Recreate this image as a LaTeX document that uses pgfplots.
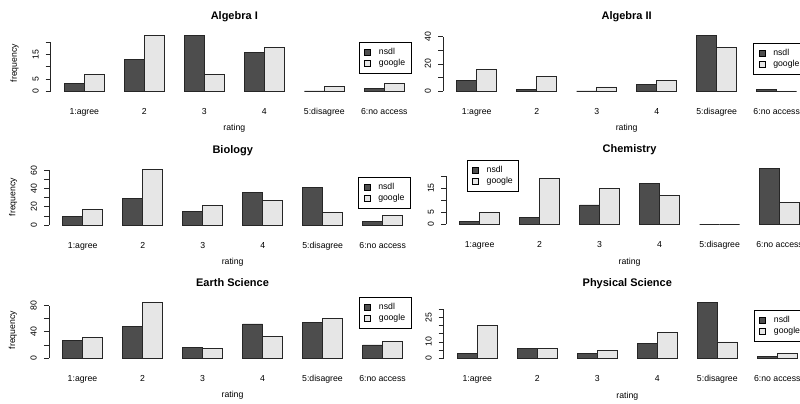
\documentclass[border=0pt]{standalone}
\usepackage{fontspec}
\setmainfont{Liberation Sans}
\usepackage{pgfplots}
\pgfplotsset{compat=1.18}
\definecolor{nsdlc}{HTML}{4D4D4D}
\definecolor{googc}{HTML}{E6E6E6}
\newcommand\lab{\fontsize{8.7}{10}\selectfont}
\newcommand\ttl{\fontsize{11}{13}\selectfont\bfseries}
\pgfplotsset{
  rpanel/.style={
    scale only axis, width=367.2pt, height=60pt, anchor=south west,
    xmin=0.32, xmax=18.68, clip=false,
    axis lines*=left, axis line style={draw=none},
    xtick={2,5,8,11,14,17},
    xticklabels={1:agree,2,3,4,5:disagree,6:no access},
    xtick style={draw=none},
    ytick style={draw=black!85, line width=0.7pt},
    tick align=outside, major tick length=5pt,
    ticklabel style={font=\lab},
    yticklabel style={rotate=90, anchor=south, inner sep=0pt},
    yticklabel shift=6.9pt,
    xticklabel style={anchor=base, inner sep=0pt},
    xticklabel shift=16pt,
    /pgf/number format/assume math mode=true,
    title style={at={(axis description cs:0.5,1.125)}, anchor=base, font=\ttl},
    xlabel=rating,
    xlabel style={at={(axis description cs:0.5,-0.628)}, anchor=base, font=\lab},
    ylabel style={at={(axis description cs:-0.098,0.5)}, anchor=center, font=\lab},
    legend style={draw=black, line width=0.75pt, fill=white, anchor=north west,
      inner xsep=5pt, inner ysep=5pt, row sep=1pt, font=\lab,
      nodes={inner sep=1pt, text height=6.2pt, text depth=1.8pt},
      /tikz/every odd column/.append style={column sep=7pt}},
    legend cell align=left,
  },
  nsdlbar/.style={ybar, bar width=1, bar shift=0pt, fill=nsdlc, draw=black!85, line width=0.8pt,
    legend image code/.code={\draw[fill=nsdlc,draw=black,line width=0.6pt] (0pt,-3pt) rectangle (6pt,3pt);}},
  googbar/.style={ybar, bar width=1, bar shift=0pt, fill=googc, draw=black!85, line width=0.8pt,
    legend image code/.code={\draw[fill=googc,draw=black,line width=0.6pt] (0pt,-3pt) rectangle (6pt,3pt);}},
  yline/.style={black!85, line width=0.75pt, forget plot},
}
\begin{document}
\begin{tikzpicture}
\useasboundingbox (0,0) rectangle (800pt,404pt);
\fill[white] (0,0) rectangle (800pt,404pt);
\begin{scope}
\clip (0,0) rectangle (413pt,404pt);
% Algebra I
\begin{axis}[rpanel, at={(50.7pt,310.8pt)}, title={Algebra I}, ylabel={frequency},
  ymin=-0.92, ymax=23.92, ytick={0,5,10,15,20}, yticklabels={0,5,,15,},
  legend style={at={(axis description cs:0.8396,0.848)}}]
\addplot[nsdlbar] coordinates {(1.5,3) (4.5,13) (7.5,23) (10.5,16) (13.5,0) (16.5,1)};
\addlegendentry{nsdl}
\addplot[googbar] coordinates {(2.5,7) (5.5,23) (8.5,7) (11.5,18) (14.5,2) (17.5,3)};
\addlegendentry{google}
\addplot[yline] coordinates {(0.32,0) (0.32,20)};
\end{axis}
% Biology
\begin{axis}[rpanel, at={(49.1pt,176.8pt)}, title={Biology}, ylabel={frequency},
  ymin=-2.44, ymax=63.44, ytick={0,10,20,30,40,50,60}, yticklabels={0,,20,,40,,60},
  legend style={at={(axis description cs:0.842,0.832)}}]
\addplot[nsdlbar] coordinates {(1.5,9) (4.5,29) (7.5,15) (10.5,36) (13.5,41) (16.5,4)};
\addlegendentry{nsdl}
\addplot[googbar] coordinates {(2.5,17) (5.5,61) (8.5,21) (11.5,27) (14.5,14) (17.5,10)};
\addlegendentry{google}
\addplot[yline] coordinates {(0.32,0) (0.32,60)};
\end{axis}
% Earth Science
\begin{axis}[rpanel, at={(48.9pt,43.8pt)}, title={Earth Science}, ylabel={frequency},
  ymin=-3.4, ymax=88.4, ytick={0,20,40,60,80}, yticklabels={0,,40,,80},
  legend style={at={(axis description cs:0.8445,1.048)}}]
\addplot[nsdlbar] coordinates {(1.5,27) (4.5,48) (7.5,16) (10.5,52) (13.5,55) (16.5,20)};
\addlegendentry{nsdl}
\addplot[googbar] coordinates {(2.5,31) (5.5,85) (8.5,15) (11.5,33) (14.5,61) (17.5,25)};
\addlegendentry{google}
\addplot[yline] coordinates {(0.32,0) (0.32,80)};
\end{axis}
\end{scope}
\begin{scope}
\clip (413pt,0) rectangle (800pt,404pt);
% Algebra II
\begin{axis}[rpanel, at={(443.1pt,310.8pt)}, title={Algebra II},
  ymin=-1.64, ymax=42.64, ytick={0,10,20,30,40}, yticklabels={0,,20,,40},
  legend style={at={(axis description cs:0.8448,0.832)}}]
\addplot[nsdlbar] coordinates {(1.5,8) (4.5,1) (7.5,0) (10.5,5) (13.5,41) (16.5,1)};
\addlegendentry{nsdl}
\addplot[googbar] coordinates {(2.5,16) (5.5,11) (8.5,3) (11.5,8) (14.5,32) (17.5,0)};
\addlegendentry{google}
\addplot[yline] coordinates {(0.32,0) (0.32,40)};
\end{axis}
% Chemistry
\begin{axis}[rpanel, at={(446pt,177.5pt)}, title={Chemistry},
  ymin=-0.92, ymax=23.92, ytick={0,5,10,15,20}, yticklabels={0,5,,15,},
  legend style={at={(axis description cs:0.0564,1.108)}}]
\addplot[nsdlbar] coordinates {(1.5,1) (4.5,3) (7.5,8) (10.5,17) (13.5,0) (16.5,23)};
\addlegendentry{nsdl}
\addplot[googbar] coordinates {(2.5,5) (5.5,19) (8.5,15) (11.5,12) (14.5,0) (17.5,9)};
\addlegendentry{google}
\addplot[yline] coordinates {(0.32,0) (0.32,20)};
\end{axis}
% Physical Science
\begin{axis}[rpanel, at={(443.7pt,43.5pt)}, title={Physical Science},
  ymin=-1.36, ymax=35.36, ytick={0,5,10,15,20,25,30}, yticklabels={0,,10,,,25,},
  legend style={at={(axis description cs:0.845,0.842)}}]
\addplot[nsdlbar] coordinates {(1.5,3) (4.5,6) (7.5,3) (10.5,9) (13.5,34) (16.5,1)};
\addlegendentry{nsdl}
\addplot[googbar] coordinates {(2.5,20) (5.5,6) (8.5,5) (11.5,16) (14.5,10) (17.5,3)};
\addlegendentry{google}
\addplot[yline] coordinates {(0.32,0) (0.32,30)};
\end{axis}
\end{scope}
\end{tikzpicture}
\end{document}
